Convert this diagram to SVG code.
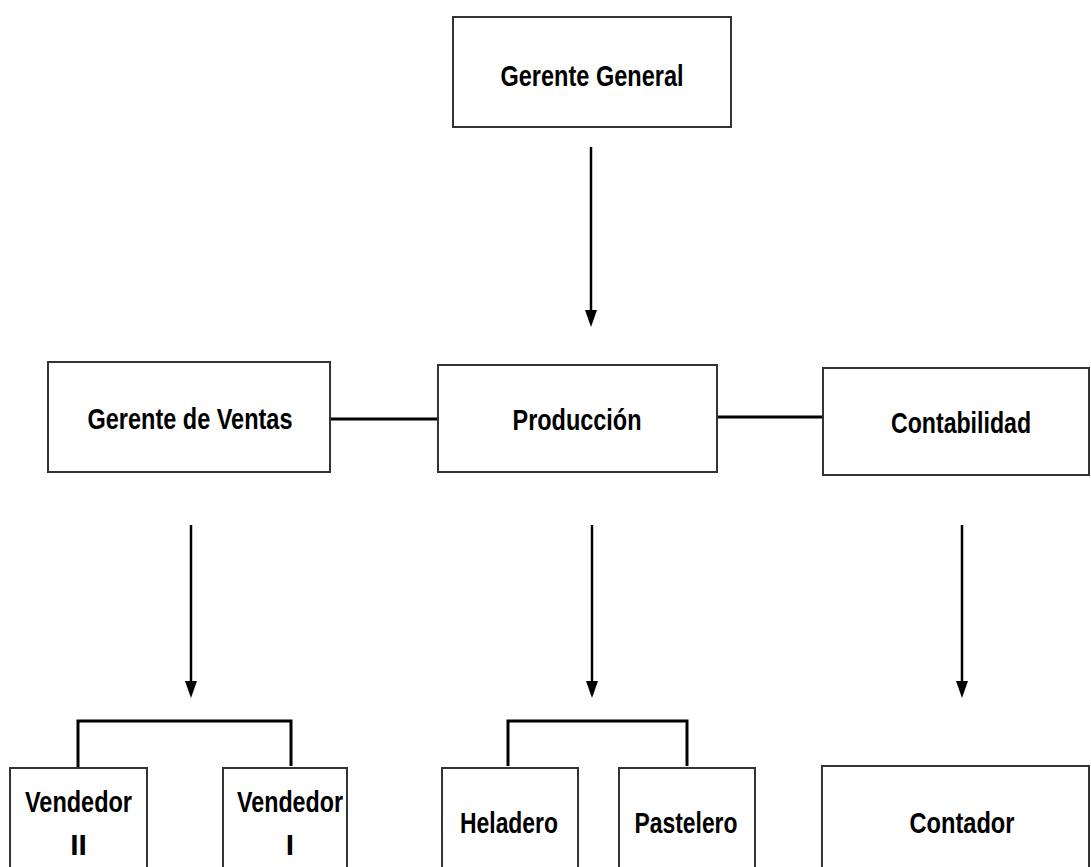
<svg xmlns="http://www.w3.org/2000/svg" width="1091" height="867" viewBox="0 0 1091 867">
<style>
.box{fill:#fff;stroke:#333;stroke-width:2}
.t{font-family:"Liberation Sans",Arial,sans-serif;font-weight:bold;font-size:30px;fill:#000;text-anchor:middle}
.ln{fill:none;stroke:#000;stroke-width:3}
.ar{fill:none;stroke:#000;stroke-width:2.5}
.ah{fill:#000}
</style>
<rect width="1091" height="867" fill="#fff"/>
<g id="connectors">
<line class="ar" x1="591" y1="147" x2="591" y2="310"/>
<path class="ah" d="M585,310 L597,310 L591,327 Z"/>
<line class="ar" x1="191" y1="525" x2="191" y2="681"/>
<path class="ah" d="M185,681 L197,681 L191,698 Z"/>
<line class="ar" x1="592" y1="525" x2="592" y2="681"/>
<path class="ah" d="M586,681 L598,681 L592,698 Z"/>
<line class="ar" x1="962" y1="525" x2="962" y2="681"/>
<path class="ah" d="M956,681 L968,681 L962,698 Z"/>
<line class="ln" x1="330" y1="419" x2="438" y2="419"/>
<line class="ln" x1="717" y1="417" x2="823" y2="417"/>
<path class="ln" d="M78,768 V721 H291 V766"/>
<path class="ln" d="M508,766 V721 H687 V766"/>
</g>
<g id="gerente-general">
<rect class="box" x="453" y="17" width="278" height="110"/>
<text class="t" x="592" y="86" textLength="183" lengthAdjust="spacingAndGlyphs">Gerente General</text>
</g>
<g id="gerente-ventas">
<rect class="box" x="48" y="362" width="282" height="110"/>
<text class="t" x="190" y="429" textLength="205" lengthAdjust="spacingAndGlyphs">Gerente de Ventas</text>
</g>
<g id="produccion">
<rect class="box" x="438" y="365" width="279" height="107"/>
<text class="t" x="577" y="430" textLength="129" lengthAdjust="spacingAndGlyphs">Producción</text>
</g>
<g id="contabilidad">
<rect class="box" x="823" y="368" width="266" height="107"/>
<text class="t" x="961" y="433" textLength="140" lengthAdjust="spacingAndGlyphs">Contabilidad</text>
</g>
<g id="vendedor-ii">
<rect class="box" x="10" y="768" width="137" height="110"/>
<text class="t" x="78.5" y="812" textLength="107" lengthAdjust="spacingAndGlyphs">Vendedor</text>
<text class="t" x="78.5" y="855">II</text>
</g>
<g id="vendedor-i">
<rect class="box" x="223" y="768" width="124" height="110"/>
<text class="t" x="290" y="812" textLength="106" lengthAdjust="spacingAndGlyphs">Vendedor</text>
<text class="t" x="290" y="855">I</text>
</g>
<g id="heladero">
<rect class="box" x="442" y="768" width="136" height="110"/>
<text class="t" x="509" y="833" textLength="98" lengthAdjust="spacingAndGlyphs">Heladero</text>
</g>
<g id="pastelero">
<rect class="box" x="619" y="768" width="136" height="110"/>
<text class="t" x="686" y="833" textLength="103" lengthAdjust="spacingAndGlyphs">Pastelero</text>
</g>
<g id="contador">
<rect class="box" x="822" y="766" width="267" height="112"/>
<text class="t" x="962" y="833" textLength="105" lengthAdjust="spacingAndGlyphs">Contador</text>
</g>
</svg>
